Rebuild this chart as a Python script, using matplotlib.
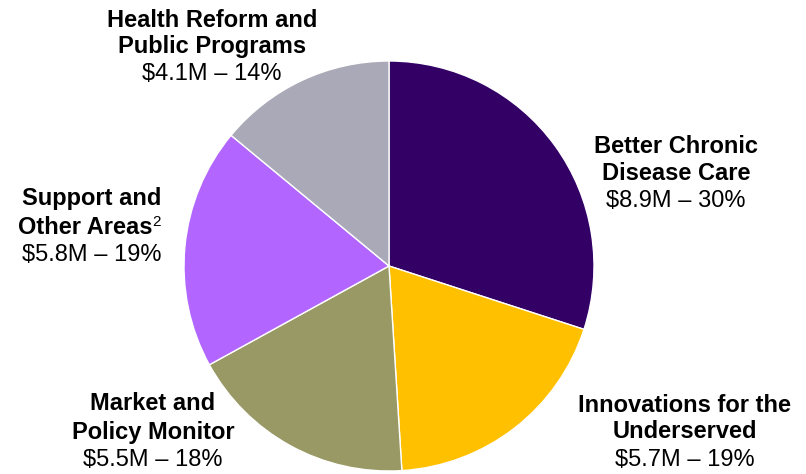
import matplotlib
matplotlib.use('Agg')
import matplotlib.pyplot as plt

# budget areas, clockwise from 12 o'clock
areas = ['Better Chronic\nDisease Care', 'Innovations for the\nUnderserved',
         'Market and\nPolicy Monitor', 'Support and\nOther Areas',
         'Health Reform and\nPublic Programs']
amounts = [8.9, 5.7, 5.5, 5.8, 4.1]  # $M
shares = [30, 19, 18, 19, 14]  # %
colors = ['#330066', '#FFC000', '#999966', '#B266FF', '#AAA9B8']

W, H = 806, 474
CX, CY, R = 389, 266, 205  # pie centre / radius in pixels

fig = plt.figure(figsize=(W / 100, H / 100), dpi=100)
ax = fig.add_axes([0, 0, 1, 1])
ax.pie(shares, colors=colors, startangle=90, counterclock=False,
       radius=1, wedgeprops={'edgecolor': 'white', 'linewidth': 1})
ax.set_xlim(-CX / R, (W - CX) / R)
ax.set_ylim(-(H - CY) / R, CY / R)
ax.set_aspect('equal')
ax.axis('off')

plt.rcParams['font.family'] = ['Liberation Sans', 'DejaVu Sans']


def px(x, y):
    return (x - CX) / R, (CY - y) / R


# label positions (pixel centres of the three lines)
label_pos = [(676, [146, 173, 201]), (685, [405, 432, 460]),
             (153, [404, 432, 460]), (92, [199, 227, 255]),
             (212, [20, 46, 74])]

FS = 17
for i, (name, amt, pct) in enumerate(zip(areas, amounts, shares)):
    x, ys = label_pos[i]
    l1, l2 = name.split('\n')
    ax.text(*px(x, ys[0]), l1, ha='center', va='center', fontsize=FS,
            fontweight='bold', color='black')
    if i == 3:
        ax.text(*px(152, ys[1]), l2, ha='right', va='center', fontsize=FS,
                fontweight='bold', color='black')
        ax.text(*px(152, ys[1] - 5), '2', ha='left', va='center', fontsize=11,
                color='black')
    else:
        ax.text(*px(x, ys[1]), l2, ha='center', va='center', fontsize=FS,
                fontweight='bold', color='black')
    ax.text(*px(x, ys[2]), f'${amt}M \u2013 {pct}%', ha='center', va='center',
            fontsize=FS, color='black')

fig.savefig('out.png', dpi=100)
